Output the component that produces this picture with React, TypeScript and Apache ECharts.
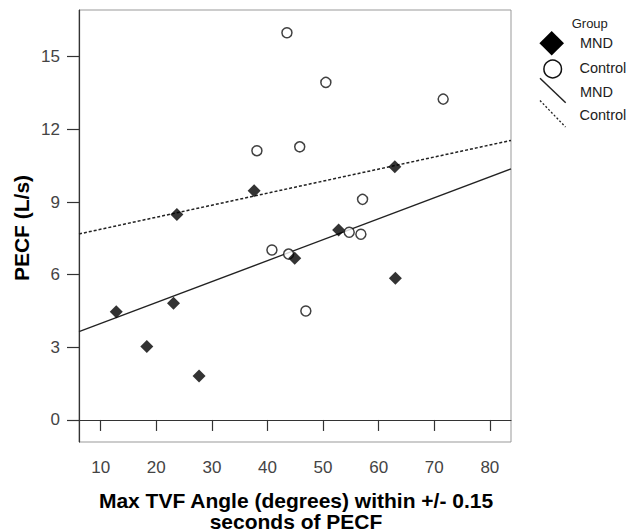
import React, { useEffect, useRef } from "react";
import * as echarts from "echarts";

// Data
const mndX = [12.8, 18.3, 23.1, 23.7, 27.7, 37.6, 44.9, 52.8, 62.9, 63.0];
const mndY = [4.47, 3.03, 4.82, 8.49, 1.82, 9.47, 6.68, 7.84, 10.46, 5.85];
const ctrlX = [38.1, 40.8, 43.5, 43.8, 45.8, 46.9, 50.5, 54.7, 56.8, 57.1, 71.6];
const ctrlY = [11.12, 7.02, 15.99, 6.85, 11.28, 4.5, 13.94, 7.75, 7.67, 9.11, 13.25];
const xTicks = [10, 20, 30, 40, 50, 60, 70, 80];
const yTicks = [0, 3, 6, 9, 12, 15];
const xRange = [6.1, 83.8];
const yRange = [-0.91, 16.93];

function fit(xs: number[], ys: number[]) {
  const n = xs.length;
  const mx = xs.reduce((a, b) => a + b, 0) / n;
  const my = ys.reduce((a, b) => a + b, 0) / n;
  let sxy = 0;
  let sxx = 0;
  for (let i = 0; i < n; i++) {
    sxy += (xs[i] - mx) * (ys[i] - my);
    sxx += (xs[i] - mx) * (xs[i] - mx);
  }
  const b = sxy / sxx;
  const a = my - b * mx;
  return xRange.map((x) => [x, a + b * x]);
}

const FONT = "'Liberation Sans', Arial, sans-serif";

export default function App() {
  const ref = useRef<HTMLDivElement>(null);
  useEffect(() => {
    if (!ref.current) return;
    const chart = echarts.init(ref.current, undefined, { renderer: "svg" });
    const txt = (x: number, y: number, s: string, size = 14) => ({
      type: "text",
      x,
      y,
      style: {
        text: s,
        font: `${size}px ${FONT}`,
        fill: "#222",
        align: "left",
        verticalAlign: "middle",
      },
    });
    chart.setOption({
      animation: false,
      backgroundColor: "#fff",
      textStyle: { fontFamily: FONT },
      grid: {
        left: 79,
        right: 122,
        top: 10,
        bottom: 90,
        show: true,
        borderColor: "#999",
        borderWidth: 1,
        backgroundColor: "transparent",
      },
      xAxis: {
        type: "value",
        min: xRange[0],
        max: xRange[1],
        axisLine: { show: true, lineStyle: { color: "#333", width: 1.2 } },
        axisTick: {
          show: true,
          length: 11,
          customValues: xTicks,
          lineStyle: { color: "#333", width: 1.2 },
        },
        axisLabel: {
          customValues: xTicks,
          margin: 17,
          fontSize: 17,
          color: "#444",
          fontFamily: FONT,
        },
        splitLine: { show: false },
      },
      yAxis: {
        type: "value",
        min: yRange[0],
        max: yRange[1],
        axisLine: { show: true, lineStyle: { color: "#333", width: 1.2 } },
        axisTick: {
          show: true,
          length: 12,
          customValues: yTicks,
          lineStyle: { color: "#333", width: 1.2 },
        },
        axisLabel: {
          customValues: yTicks,
          margin: 19,
          fontSize: 17,
          color: "#444",
          fontFamily: FONT,
        },
        splitLine: { show: false },
      },
      series: [
        {
          name: "MND fit",
          type: "line",
          data: fit(mndX, mndY),
          showSymbol: false,
          lineStyle: { color: "#222", width: 1.3, type: "solid" },
          z: 1,
        },
        {
          name: "Control fit",
          type: "line",
          data: fit(ctrlX, ctrlY),
          showSymbol: false,
          lineStyle: { color: "#222", width: 1.5, type: [3, 2] },
          z: 1,
        },
        {
          name: "Control",
          type: "scatter",
          data: ctrlX.map((x, i) => [x, ctrlY[i]]),
          symbol: "circle",
          symbolSize: 10,
          itemStyle: { color: "#fff", borderColor: "#111", borderWidth: 1.5 },
          z: 3,
        },
        {
          name: "MND",
          type: "scatter",
          data: mndX.map((x, i) => [x, mndY[i]]),
          symbol: "diamond",
          symbolSize: 13,
          itemStyle: { color: "#000" },
          z: 4,
        },
      ],
      graphic: [
        {
          type: "text",
          x: 21,
          y: 228,
          rotation: Math.PI / 2,
          style: {
            text: "PECF (L/s)",
            font: `bold 21px ${FONT}`,
            fill: "#000",
            align: "center",
            verticalAlign: "middle",
          },
        },
        {
          type: "text",
          x: 296,
          y: 511,
          style: {
            text: "Max TVF Angle (degrees) within +/- 0.15\nseconds of PECF",
            font: `bold 21px ${FONT}`,
            fill: "#000",
            align: "center",
            verticalAlign: "middle",
            lineHeight: 21,
          },
        },
        txt(571.7, 23.3, "Group", 13),
        {
          type: "polygon",
          shape: {
            points: [
              [551.7, 31],
              [564, 43.3],
              [551.7, 55.5],
              [539.4, 43.3],
            ],
          },
          style: { fill: "#000" },
        },
        {
          type: "circle",
          shape: { cx: 552.7, cy: 69, r: 8.8 },
          style: { fill: "#fff", stroke: "#111", lineWidth: 1.5 },
        },
        {
          type: "line",
          shape: { x1: 540, y1: 78.3, x2: 565.7, y2: 102.7 },
          style: { stroke: "#222", lineWidth: 1.5 },
        },
        {
          type: "line",
          shape: { x1: 540, y1: 100.5, x2: 565.5, y2: 127 },
          style: { stroke: "#222", lineWidth: 1.3, lineDash: [2, 2] },
        },
        txt(580, 43.3, "MND", 14.5),
        txt(579.5, 68.3, "Control", 14.5),
        txt(580, 91.7, "MND", 14.5),
        txt(579.5, 115, "Control", 14.5),
      ],
    });
    return () => chart.dispose();
  }, []);
  return (
    <div
      ref={ref}
      style={{
        position: "fixed",
        left: 0,
        top: 0,
        width: 633,
        height: 532,
        background: "#fff",
      }}
    />
  );
}
